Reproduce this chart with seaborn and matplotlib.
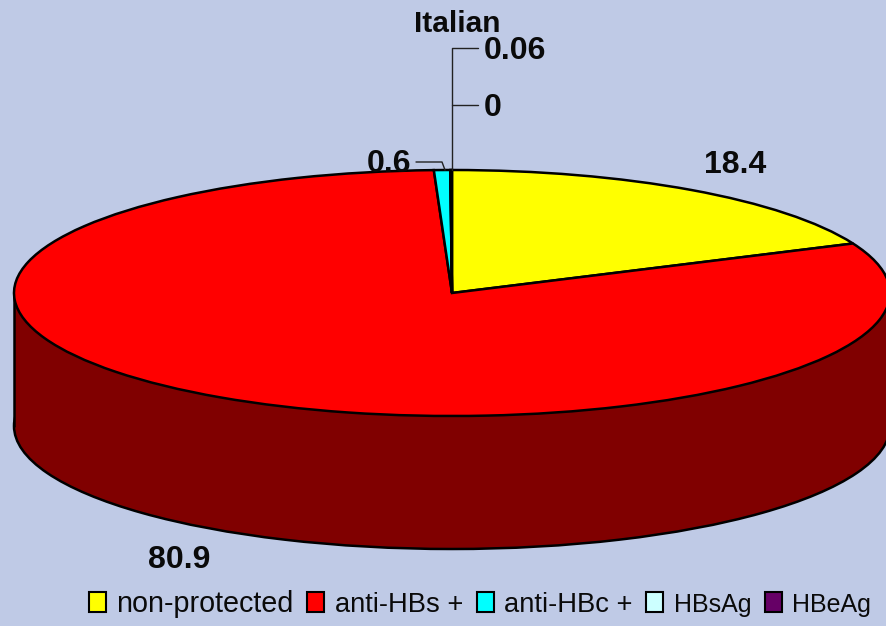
import matplotlib
matplotlib.use("Agg")
import matplotlib.pyplot as plt
from matplotlib.patches import Patch
import seaborn as sns

title = "Italian"
categories = ["non-protected", "anti-HBs +", "anti-HBc +", "HBsAg", "HBeAg"]
values = [18.4, 80.9, 0.6, 0, 0.06]
value_labels = ["18.4", "80.9", "0.6", "0", "0.06"]
colors = ["#FFFF00", "#FF0000", "#00FFFF", "#CCFFFF", "#660066"]
legend_sizes = [20.7, 19.6, 19.7, 18, 18]
side_color = "#800000"
bg = "#BFCAE6"

sns.set_theme(style="white", rc={"figure.facecolor": bg, "axes.facecolor": bg})
plt.rcParams["font.family"] = ["Liberation Sans", "DejaVu Sans"]

W, H = 886, 626
CX, CY, RX, RY = 452, 293, 438, 123
DEPTH = 133 / RY


def px(x, y):
    return (x - CX) / RX, (CY - y) / RY


fig = plt.figure(figsize=(W / 100, H / 100), dpi=100, facecolor=bg)
ax = fig.add_axes([0, 0, 1, 1])
edge = dict(edgecolor="black", linewidth=1.8)

# side of the cylinder
ax.pie([1], colors=[side_color], center=(0, -DEPTH), wedgeprops=edge)
ax.fill_between([-1, 1], -DEPTH, 0, color=side_color, linewidth=0, zorder=1.5)
ax.plot([-1, -1], [-DEPTH, 0], color="black", lw=1.8, zorder=1.6)
ax.plot([1, 1], [-DEPTH, 0], color="black", lw=1.8, zorder=1.6)

# top face
wedges, _ = ax.pie(values, colors=colors, startangle=90, counterclock=False,
                   normalize=True, wedgeprops=edge)
for w in wedges:
    w.set_zorder(2)

ax.set_aspect("auto")
x0, y0 = px(0, H)
x1, y1 = px(W, 0)
ax.set_xlim(x0, x1)
ax.set_ylim(y0, y1)
ax.axis("off")

# leader lines
lc = "#222222"
for pts in ([(452, 170), (452, 48), (478, 48)],
            [(452, 105), (478, 105)],
            [(416, 162), (442, 162), (445, 170)]):
    xs, ys = zip(*[px(*p) for p in pts])
    ax.plot(xs, ys, color=lc, lw=1.0, zorder=3)

bold = dict(fontweight="bold", color="#0a0a0a", va="center", zorder=4)
ax.text(*px(457, 24), title, ha="center", fontsize=21.5, **bold)
ax.text(*px(484, 51), value_labels[4], ha="left", fontsize=23, **bold)
ax.text(*px(484, 108), value_labels[3], ha="left", fontsize=23, **bold)
ax.text(*px(411, 164), value_labels[2], ha="right", fontsize=23, **bold)
ax.text(*px(735, 165), value_labels[0], ha="center", fontsize=23, **bold)
ax.text(*px(179, 560), value_labels[1], ha="center", fontsize=23, **bold)

handles = [Patch(facecolor=c, edgecolor="black", linewidth=1.5) for c in colors]
leg = ax.legend(handles, categories, ncol=5, frameon=False, fontsize=20.5,
                loc="lower left", bbox_to_anchor=px(89, 618),
                bbox_transform=ax.transData,
                handlelength=0.6, handleheight=0.68, handletextpad=0.36,
                columnspacing=0.48, borderpad=0.0, borderaxespad=0.0,
                labelcolor="#0a0a0a")
for t, s in zip(leg.get_texts(), legend_sizes):
    t.set_fontsize(s)

fig.savefig("out.png", dpi=100, facecolor=bg)
